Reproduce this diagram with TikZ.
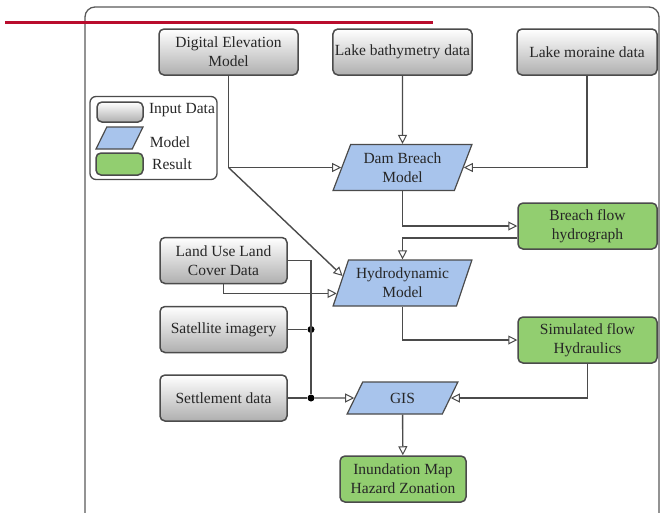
\documentclass[tikz,border=0pt]{standalone}
\usepackage{fontspec}
\setmainfont{Liberation Serif}
\newfontfamily\diagfont{Liberation Serif}
\usetikzlibrary{shapes.geometric, arrows.meta, calc}
\definecolor{inbot}{RGB}{175,175,175}
\definecolor{modfill}{RGB}{168,196,236}
\definecolor{resfill}{RGB}{146,206,112}
\definecolor{edgegray}{RGB}{75,75,75}
\definecolor{redbar}{RGB}{185,12,45}

\begin{document}
\begin{tikzpicture}[x=1pt, y=-1pt,
  font=\diagfont\fontsize{15.5}{19}\selectfont, text=black!85,
  input/.style={draw=edgegray, line width=1.5pt, rounded corners=5pt, top color=white, bottom color=inbot, align=center, minimum height=46pt, inner sep=2pt},
  model/.style={trapezium, trapezium left angle=67, trapezium right angle=113, trapezium stretches=true, draw=edgegray, line width=1.2pt, fill=modfill, align=center, minimum height=46pt, inner sep=1pt},
  result/.style={draw=edgegray, line width=1.5pt, rounded corners=5pt, fill=resfill, align=center, minimum width=139pt, minimum height=46pt, inner sep=2pt},
  link/.style={draw=edgegray, line width=1.4pt},
  arr/.style={link, -{Triangle[open, fill=white, length=9pt, width=9pt, line width=1pt]}},
  junc/.style={circle, fill=black, inner sep=0pt, minimum size=7pt}]
\useasboundingbox (0,0) rectangle (661,512);
% frame and bar
\draw[gray!70!black, line width=1.3pt, rounded corners=10pt] (85,7) rectangle (659,530);
\draw[redbar, line width=3pt] (5,22.5) -- (433,22.5);

% legend
\node[draw=edgegray, line width=1.3pt, rounded corners=6pt, minimum width=127pt, minimum height=83pt] (legend) at (153.5,138) {};
\node[input, minimum width=46pt, minimum height=20pt] (lgin) at (120,112) {};
\node[model, minimum width=47pt, minimum height=22pt] (lgmod) at (119.5,138) {};
\node[result, minimum width=47pt, minimum height=22pt] (lgres) at (119.5,164) {};
\node (lgintxt) at (182,110) {Input Data};
\node (lgmodtxt) at (170,142) {Model};
\node (lgrestxt) at (172,164) {Result};

% inputs, models, results
\node[input, minimum width=139pt] (dem) at (228.5,52) {Digital Elevation\\Model};
\node[input, minimum width=139pt] (bathy) at (402.5,52) {Lake bathymetry data};
\node[input, minimum width=140pt] (moraine) at (587,52) {Lake moraine data};
\node[model, minimum width=139pt] (dam) at (402.5,167.5) {Dam Breach\\Model};
\node[result] (breach) at (587.5,226) {Breach flow\\hydrograph};
\node[input, minimum width=127pt] (lulc) at (223.5,260.5) {Land Use Land\\Cover Data};
\node[model, minimum width=139pt] (hydro) at (402.5,283) {Hydrodynamic\\Model};
\node[input, minimum width=127pt] (sat) at (223.5,329.5) {Satellite imagery};
\node[result] (sim) at (587.5,340) {Simulated flow\\Hydraulics};
\node[input, minimum width=127pt] (settle) at (223.5,398) {Settlement data};
\node[model, minimum width=111pt, minimum height=32pt] (gis) at (402.5,398) {GIS};
\node[result, minimum width=126pt] (inund) at (403,479) {Inundation Map\\Hazard Zonation};
\node[junc] (jsat) at (311,329.5) {};
\node[junc] (jset) at (311,398) {};

% connectors
\coordinate (demc) at (dem.south |- dam.west);
\draw[arr] (dem) |- (dam);
\draw[arr] (demc) -- ($(hydro.top left corner)!0.35!(hydro.bottom left corner)$);
\draw[arr] (bathy) -- (dam);
\draw[arr] (moraine) |- (dam);
\draw[arr] (dam) |- (breach);
\coordinate (brout) at ($(breach.south west)!0.25!(breach.north west)$);
\draw[arr] (brout) -| (hydro);
\draw[arr] (lulc) |- ($(hydro.top left corner)!0.72!(hydro.bottom left corner)$);
\draw[link] (lulc) -| (jset);
\draw[link] (sat) -- (jsat);
\draw[link] (settle) -- (jset);
\draw[arr] (jset) -- (gis);
\draw[arr] (hydro) |- (sim);
\draw[arr] (sim) |- (gis);
\draw[arr] (gis) -- (inund);
\end{tikzpicture}
\end{document}
